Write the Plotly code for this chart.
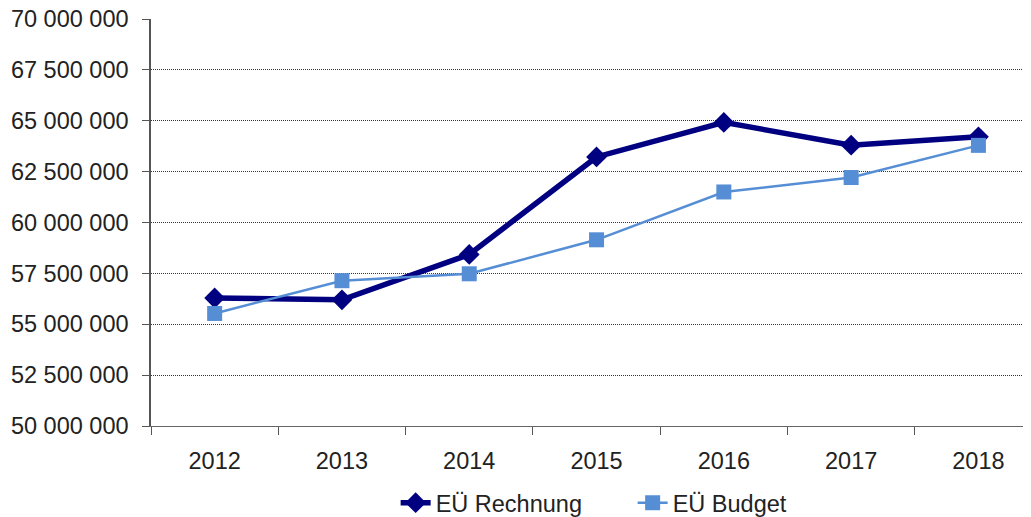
import plotly.graph_objects as go

years = ["2012", "2013", "2014", "2015", "2016", "2017", "2018"]
rechnung = [56_290_000, 56_200_000, 58_430_000, 63_220_000, 64_920_000, 63_800_000, 64_210_000]
budget = [55_530_000, 57_140_000, 57_480_000, 59_150_000, 61_500_000, 62_210_000, 63_790_000]

fig = go.Figure()
fig.add_trace(go.Scatter(
    x=years, y=rechnung, name="EÜ Rechnung", mode="lines+markers",
    line=dict(color="#000080", width=5.5),
    marker=dict(symbol="diamond", size=16, color="#000080"),
))
fig.add_trace(go.Scatter(
    x=years, y=budget, name="EÜ Budget", mode="lines+markers",
    line=dict(color="#558ED5", width=2.5),
    marker=dict(symbol="square", size=15, color="#558ED5"),
))

font_family = "Liberation Sans, Arial, sans-serif"
fig.update_layout(
    width=1023, height=509,
    margin=dict(l=143, r=0, t=11, b=91, autoexpand=False),
    paper_bgcolor="white", plot_bgcolor="white",
    separators=", ",
    font=dict(family=font_family, size=23.5, color="#222222"),
    showlegend=True,
    legend=dict(orientation="h", x=0.278, xanchor="left", y=-0.135, yanchor="top",
                font=dict(size=23.5, color="#222222"),
                entrywidth=192, entrywidthmode="pixels"),
    xaxis=dict(
        type="category", range=[-0.5, 6.413], tickson="boundaries",
        ticks="outside", ticklen=8, tickcolor="#555555", tickwidth=1,
        showline=True, linecolor="#666666", linewidth=1,
        showgrid=False, zeroline=False, ticklabelstandoff=14, automargin=False,
        ticklabeloverflow="allow",
    ),
    yaxis=dict(
        range=[50_000_000, 70_000_000], dtick=2_500_000, tick0=50_000_000,
        tickformat=",d",
        ticks="outside", ticklen=7, tickcolor="#555555", tickwidth=1,
        showline=True, linecolor="#555555", linewidth=1.5,
        showgrid=True, gridcolor="#333333", gridwidth=1, griddash="1px,1px",
        zeroline=False, ticklabelstandoff=9, automargin=False,
        ticklabeloverflow="allow",
    ),
)

fig.write_html("out.html")
